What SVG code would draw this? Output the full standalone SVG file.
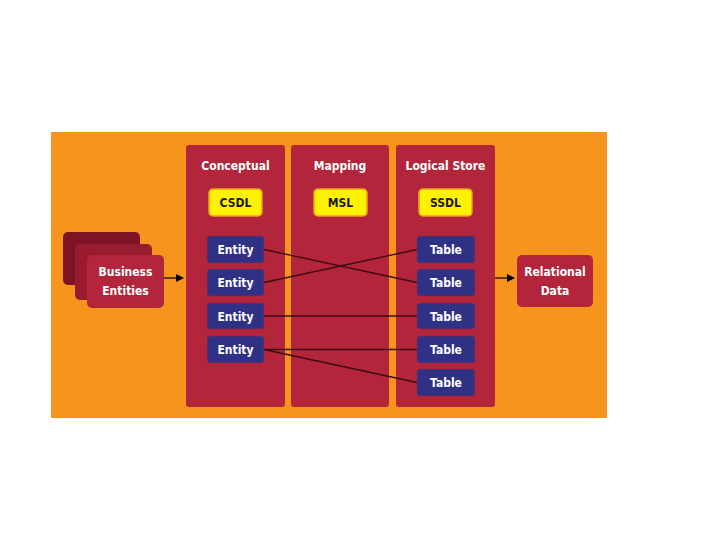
<svg xmlns="http://www.w3.org/2000/svg" width="720" height="540" viewBox="0 0 720 540">
<defs>
<style>
.bg{fill:#F7941E}
.col{fill:#B3253A}
.lbl{font-family:"DejaVu Sans Condensed","Liberation Sans Narrow","Liberation Sans",sans-serif;font-weight:bold;fill:#FFFFFF;font-size:12px;text-anchor:middle}
.ylbl{font-family:"DejaVu Sans Condensed","Liberation Sans Narrow","Liberation Sans",sans-serif;font-weight:bold;fill:#1A1A1A;font-size:12px;text-anchor:middle}
.blue{fill:#2F3185;stroke:#B3253A;stroke-width:0.5}
.yel{fill:#FFF200;stroke:#EFA021;stroke-width:1.5}
.link{stroke:#3A0A14;stroke-width:1.3;fill:none}
.arr{stroke:#000;stroke-width:1.2;fill:none;marker-end:url(#ah)}
</style>
<marker id="ah" markerWidth="8" markerHeight="8" refX="7" refY="4" orient="auto" markerUnits="userSpaceOnUse">
<path d="M0,0 L8,4 L0,8 Z" fill="#000"/>
</marker>
</defs>
<rect class="bg" x="51" y="132" width="556" height="286"/>
<g id="col-conceptual">
<rect class="col" x="186" y="145" width="99" height="262" rx="3"/>
<text class="lbl" x="235.5" y="170">Conceptual</text>
</g>
<g id="col-mapping">
<rect class="col" x="291" y="145" width="98" height="262" rx="3"/>
<text class="lbl" x="340" y="170">Mapping</text>
</g>
<g id="col-logical">
<rect class="col" x="396" y="145" width="99" height="262" rx="3"/>
<text class="lbl" x="445.5" y="170">Logical Store</text>
</g>
<g id="csdl"><rect class="yel" x="209" y="189" width="53" height="27" rx="4"/><text class="ylbl" x="235.5" y="207">CSDL</text></g>
<g id="msl"><rect class="yel" x="314" y="189" width="53" height="27" rx="4"/><text class="ylbl" x="340.5" y="207">MSL</text></g>
<g id="ssdl"><rect class="yel" x="419" y="189" width="53" height="27" rx="4"/><text class="ylbl" x="445.5" y="207">SSDL</text></g>
<g id="business-entities">
<rect x="63" y="232" width="77" height="53" rx="5" fill="#7D1424"/>
<rect x="75" y="244" width="77" height="56" rx="5" fill="#981B2F"/>
<rect x="87" y="255" width="77" height="53" rx="5" fill="#B3253A"/>
<text class="lbl" x="125.5" y="276">Business</text>
<text class="lbl" x="125.5" y="295">Entities</text>
</g>
<g id="relational-data">
<rect x="517" y="255" width="76" height="52" rx="5" fill="#B3253A"/>
<text class="lbl" x="555" y="276">Relational</text>
<text class="lbl" x="555" y="295">Data</text>
</g>
<g id="connectors">
<line class="link" x1="264" y1="249.5" x2="417" y2="282.5"/>
<line class="link" x1="264" y1="282.5" x2="417" y2="249.5"/>
<line class="link" x1="264" y1="316" x2="417" y2="316"/>
<line class="link" x1="264" y1="349.5" x2="417" y2="349.5"/>
<line class="link" x1="264" y1="349.5" x2="417" y2="382.5"/>
<line class="arr" x1="164" y1="278" x2="183" y2="278"/>
<line class="arr" x1="495" y1="278" x2="514" y2="278"/>
</g>
<g id="entity1"><rect class="blue" x="207" y="236" width="57" height="27" rx="3"/><text class="lbl" x="235.5" y="254">Entity</text></g>
<g id="entity2"><rect class="blue" x="207" y="269" width="57" height="27" rx="3"/><text class="lbl" x="235.5" y="287">Entity</text></g>
<g id="entity3"><rect class="blue" x="207" y="303" width="57" height="26" rx="3"/><text class="lbl" x="235.5" y="320.5">Entity</text></g>
<g id="entity4"><rect class="blue" x="207" y="336" width="57" height="27" rx="3"/><text class="lbl" x="235.5" y="354">Entity</text></g>
<g id="table1"><rect class="blue" x="417" y="236" width="58" height="27" rx="3"/><text class="lbl" x="446" y="254">Table</text></g>
<g id="table2"><rect class="blue" x="417" y="269" width="58" height="27" rx="3"/><text class="lbl" x="446" y="287">Table</text></g>
<g id="table3"><rect class="blue" x="417" y="303" width="58" height="26" rx="3"/><text class="lbl" x="446" y="320.5">Table</text></g>
<g id="table4"><rect class="blue" x="417" y="336" width="58" height="27" rx="3"/><text class="lbl" x="446" y="354">Table</text></g>
<g id="table5"><rect class="blue" x="417" y="369" width="58" height="27" rx="3"/><text class="lbl" x="446" y="387">Table</text></g>
</svg>
